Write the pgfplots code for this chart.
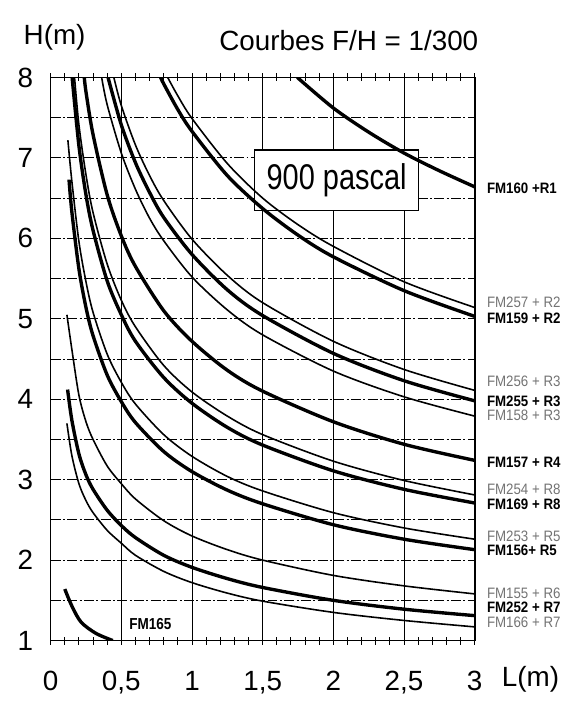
\documentclass[border=0pt]{standalone}
\usepackage{fontspec}
\setmainfont{Liberation Sans}
\usepackage{graphicx}
\usepackage{pgfplots}
\pgfplotsset{compat=1.18}
\tikzset{
  thk/.style={black, line width=1.7pt, smooth},
  thn/.style={black, line width=0.8pt, smooth},
  labb/.style={anchor=west, inner sep=0pt, xshift=6pt, font=\fontsize{7.6}{7.6}\selectfont\bfseries},
  labt/.style={anchor=west, inner sep=0pt, xshift=6pt, text=black!55, font=\fontsize{7.6}{7.6}\selectfont},
}
\begin{document}
\begin{tikzpicture}
\begin{axis}[
  scale only axis, width=213.5pt, height=283.5pt,
  xmin=0, xmax=3, ymin=1, ymax=8,
  axis line style={line width=0.8pt},
  xtick={0,0.5,1,1.5,2,2.5,3},
  xticklabels={0,{0,5},1,{1,5},2,{2,5},3},
  ytick={1,1.5,...,8},
  yticklabels={1,,2,,3,,4,,5,,6,,7,,8},
  minor x tick num=4,
  tick align=center,
  major tick length=4pt, minor tick length=4pt,
  ytick style={draw=none},
  xtick style={black, line width=0.5pt},
  xmajorgrids, ymajorgrids,
  major x grid style={black, line width=0.5pt},
  major y grid style={black, line width=0.45pt, dash pattern=on 5pt off 1.2pt on 1pt off 1.2pt},
  ticklabel style={font=\fontsize{14}{14}\selectfont},
  /pgf/number format/assume math mode=true,
  xticklabel style={anchor=base, yshift=-23.3pt},
  yticklabel style={anchor=east, xshift=-3.3pt},
  clip mode=individual,
  no markers,
]
% box
\node[draw, fill=white, line width=0.8pt, minimum width=82.5pt, minimum height=30.5pt, inner sep=0pt]
  at (axis cs:2.023,6.725) {\scalebox{0.81}[1]{\fontsize{18}{18}\selectfont 900 pascal}};

% FM160 + R1
\addplot[thk] coordinates {(1.745,8.0) (2,7.62) (2.25,7.32) (2.5,7.06) (2.75,6.84) (3,6.64)};
% FM257 + R2
\addplot[thn] coordinates {(0.828,8.0) (0.9,7.77) (1,7.49) (1.25,6.93) (1.5,6.50) (1.75,6.17) (2,5.90) (2.5,5.46) (3,5.14)};
% FM159 + R2
\addplot[thk] coordinates {(0.778,8.0) (0.8,7.92) (0.9,7.60) (1,7.33) (1.25,6.78) (1.5,6.37) (1.75,6.04) (2,5.77) (2.5,5.35) (3,5.03)};
% FM256 + R3
\addplot[thn] coordinates {(0.447,8.0) (0.5,7.65) (0.6,7.16) (0.7,6.78) (0.8,6.47) (1,5.99) (1.25,5.54) (1.5,5.20) (2,4.72) (2.5,4.37) (3,4.11)};
% FM255 + R3
\addplot[thk] coordinates {(0.406,8.0) (0.5,7.41) (0.6,6.94) (0.7,6.57) (0.8,6.26) (1,5.80) (1.25,5.36) (1.5,5.04) (2,4.57) (2.5,4.23) (3,3.98)};
% FM158 + R3
\addplot[thn] coordinates {(0.361,8.0) (0.4,7.66) (0.5,7.06) (0.6,6.61) (0.7,6.25) (0.8,5.97) (1,5.52) (1.25,5.11) (1.5,4.80) (2,4.35) (2.5,4.03) (3,3.79)};
% FM157 + R4
\addplot[thk] coordinates {(0.238,8.0) (0.25,7.82) (0.3,7.29) (0.4,6.54) (0.5,6.03) (0.6,5.65) (0.8,5.10) (1,4.72) (1.25,4.36) (1.5,4.10) (2,3.72) (2.5,3.44) (3,3.24)};
% FM254 + R8
\addplot[thn] coordinates {(0.169,8.0) (0.2,7.41) (0.25,6.79) (0.3,6.32) (0.4,5.68) (0.5,5.23) (0.6,4.90) (0.8,4.42) (1,4.09) (1.25,3.79) (1.5,3.56) (2,3.23) (2.5,2.99) (3,2.81)};
% FM169 + R8
\addplot[thk] coordinates {(0.152,8.0) (0.2,7.15) (0.25,6.54) (0.3,6.10) (0.4,5.47) (0.5,5.05) (0.6,4.72) (0.8,4.27) (1,3.95) (1.25,3.65) (1.5,3.43) (2,3.11) (2.5,2.88) (3,2.71)};
% FM253 + R5
\addplot[thn] coordinates {(0.122,7.22) (0.15,6.71) (0.2,5.96) (0.25,5.46) (0.3,5.08) (0.4,4.56) (0.5,4.21) (0.6,3.94) (0.8,3.56) (1,3.29) (1.25,3.04) (1.5,2.86) (2,2.59) (2.5,2.40) (3,2.26)};
% FM156 + R5
\addplot[thk] coordinates {(0.13,6.73) (0.15,6.33) (0.2,5.62) (0.25,5.14) (0.3,4.79) (0.4,4.30) (0.5,3.97) (0.6,3.71) (0.8,3.35) (1,3.10) (1.25,2.87) (1.5,2.70) (2,2.44) (2.5,2.26) (3,2.13)};
% FM155 + R6
\addplot[thn] coordinates {(0.115,5.05) (0.15,4.62) (0.2,4.05) (0.25,3.72) (0.3,3.50) (0.4,3.17) (0.5,2.95) (0.6,2.76) (0.8,2.49) (1,2.30) (1.25,2.13) (1.5,2.00) (2,1.81) (2.5,1.68) (3,1.58)};
% FM252 + R7
\addplot[thk] coordinates {(0.12,4.12) (0.15,3.74) (0.2,3.32) (0.25,3.06) (0.3,2.88) (0.4,2.62) (0.5,2.43) (0.6,2.28) (0.8,2.06) (1,1.91) (1.25,1.77) (1.5,1.66) (2,1.50) (2.5,1.39) (3,1.31)};
% FM166 + R7
\addplot[thn] coordinates {(0.115,3.70) (0.15,3.30) (0.2,2.95) (0.25,2.74) (0.3,2.59) (0.4,2.37) (0.5,2.21) (0.6,2.06) (0.8,1.86) (1,1.72) (1.25,1.59) (1.5,1.49) (2,1.35) (2.5,1.25) (3,1.17)};
% FM165
\addplot[thk] coordinates {(0.10,1.64) (0.15,1.43) (0.215,1.23) (0.32,1.09) (0.44,1.0)};

% right labels
\node[labb] at (axis cs:3,6.62) {\scalebox{0.88}[1]{FM160 +R1}};
\node[labt] at (axis cs:3,5.21) {\scalebox{0.88}[1]{FM257 + R2}};
\node[labb] at (axis cs:3,5.01) {\scalebox{0.88}[1]{FM159 + R2}};
\node[labt] at (axis cs:3,4.22) {\scalebox{0.88}[1]{FM256 + R3}};
\node[labb] at (axis cs:3,3.98) {\scalebox{0.88}[1]{FM255 + R3}};
\node[labt] at (axis cs:3,3.80) {\scalebox{0.88}[1]{FM158 + R3}};
\node[labb] at (axis cs:3,3.22) {\scalebox{0.88}[1]{FM157 + R4}};
\node[labt] at (axis cs:3,2.88) {\scalebox{0.88}[1]{FM254 + R8}};
\node[labb] at (axis cs:3,2.70) {\scalebox{0.88}[1]{FM169 + R8}};
\node[labt] at (axis cs:3,2.29) {\scalebox{0.88}[1]{FM253 + R5}};
\node[labb] at (axis cs:3,2.12) {\scalebox{0.88}[1]{FM156+ R5}};
\node[labt] at (axis cs:3,1.59) {\scalebox{0.88}[1]{FM155 + R6}};
\node[labb] at (axis cs:3,1.41) {\scalebox{0.88}[1]{FM252 + R7}};
\node[labt] at (axis cs:3,1.23) {\scalebox{0.88}[1]{FM166 + R7}};
\node[inner sep=0pt, font=\fontsize{8}{8}\selectfont\bfseries] at (axis cs:0.705,1.21) {\scalebox{0.85}[1]{FM165}};

% titles
\node[anchor=base west, inner sep=0pt, font=\fontsize{14}{14}\selectfont] at ([xshift=-13.75pt,yshift=16.5pt]rel axis cs:0,1) {H(m)};
\node[anchor=base, inner sep=0pt, font=\fontsize{14}{14}\selectfont] at ([yshift=13.6pt]rel axis cs:0.703,1) {Courbes F/H = 1/300};
\node[anchor=base west, inner sep=0pt, font=\fontsize{14}{14}\selectfont] at ([xshift=13.5pt,yshift=-23.3pt]rel axis cs:1,0) {L(m)};

% canvas extent
\path ([xshift=-25.5pt,yshift=-28pt]rel axis cs:0,0) rectangle ([xshift=45pt,yshift=39pt]rel axis cs:1,1);
\end{axis}
\end{tikzpicture}
\end{document}
